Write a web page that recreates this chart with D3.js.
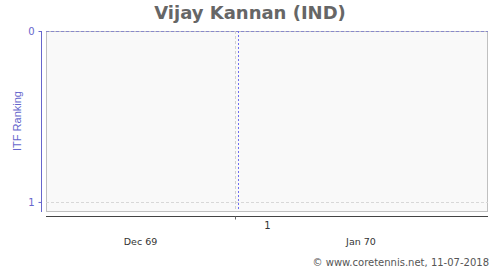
<!DOCTYPE html>
<html><head><meta charset="utf-8">
<script src="https://cdn.jsdelivr.net/npm/d3@7"></script>
<style>body{margin:0;background:#fff}svg{display:block;font-family:"DejaVu Sans",sans-serif}</style>
</head><body><svg id="c" width="500" height="270"></svg>
<script>
const title = "Vijay Kannan (IND)";
const yLabel = "ITF Ranking";
const footer = "© www.coretennis.net, 11-07-2018";
const yTicks = [0, 1];
const yDomain = [0, 1.053];
const xDomain = ["1969-12-08T18:00:00Z", "1970-02-01T00:00:00Z"];
const months = ["1969-12-01T00:00:00Z", "1970-01-01T00:00:00Z", "1970-02-01T00:00:00Z"];
const monthLabels = ["Dec 69", "Jan 70"];
const weekStarts = ["1970-01-01T00:00:00Z", "1970-01-09T00:00:00Z"];
const weekLabels = ["1"];
const rankDates = ["1970-01-01T09:00:00Z"];

const svg = d3.select("#c");
const L = 46, R = 487, T = 31, B = 211;
const x = d3.scaleUtc().domain(xDomain.map(d => new Date(d))).range([L, R]);
const y = d3.scaleLinear().domain(yDomain).range([T, B]);
const axisCol = "#6666cc";

svg.append("text").attr("x", 250).attr("y", 19).attr("text-anchor", "middle")
  .attr("font-size", 18).attr("font-weight", "bold").attr("fill", "#666").text(title);

svg.append("rect").attr("x", L + 0.5).attr("y", T + 0.5).attr("width", R - L).attr("height", B - T)
  .attr("fill", "#f9f9f9").attr("stroke", "#c0c0c0");

// horizontal gridlines
svg.append("g").selectAll("line").data(yTicks).join("line")
  .attr("x1", L).attr("x2", R + 1)
  .attr("y1", d => Math.round(y(d)) + 0.5).attr("y2", d => Math.round(y(d)) + 0.5)
  .attr("stroke", (d, i) => i === 0 ? "#8888cc" : "#d8d8d8").attr("stroke-dasharray", "3,2");

// vertical gridline at month boundary
const mDates = months.map(d => new Date(d));
const innerBounds = mDates.filter(d => d > x.domain()[0] && d < x.domain()[1]);
svg.append("g").selectAll("line").data(innerBounds).join("line")
  .attr("x1", d => Math.round(x(d)) + 0.5).attr("x2", d => Math.round(x(d)) + 0.5)
  .attr("y1", T).attr("y2", B)
  .attr("stroke", "#d0d0d0").attr("stroke-dasharray", "3,2");

// ranking markers
svg.append("g").selectAll("line").data(rankDates.map(d => new Date(d))).join("line")
  .attr("x1", d => Math.round(x(d)) + 0.5).attr("x2", d => Math.round(x(d)) + 0.5)
  .attr("y1", T).attr("y2", B)
  .attr("stroke", "#6f6ff0").attr("stroke-dasharray", "2,2");

// left axis
const ya = svg.append("g").attr("transform", `translate(${L - 4.5},0)`)
  .call(d3.axisLeft(y).tickValues(yTicks).tickSize(3).tickPadding(4).tickFormat(d3.format("d")));
ya.select(".domain").attr("stroke", axisCol).attr("d", `M0,${T}V${B + 1}`);
ya.selectAll(".tick line").attr("stroke", axisCol);
ya.selectAll(".tick text").attr("fill", axisCol).attr("font-size", 10).attr("font-family", "DejaVu Sans");

svg.append("text").attr("transform", `translate(21,${(T + B) / 2}) rotate(-90)`)
  .attr("text-anchor", "middle").attr("font-size", 11).attr("fill", axisCol)
  .attr("font-family", "Liberation Sans, Arial, sans-serif").text(yLabel);

// bottom axis
const xa = svg.append("g").attr("transform", `translate(0,${B + 5.5})`)
  .call(d3.axisBottom(x).tickValues(innerBounds).tickSize(3).tickFormat(""));
xa.select(".domain").attr("stroke", "#444").attr("d", `M${L},0H${R + 1}`);
xa.selectAll(".tick line").attr("stroke", "#666");

// week labels
const wk = weekStarts.map(d => new Date(d));
svg.append("g").selectAll("text").data(weekLabels).join("text")
  .attr("x", (d, i) => (x(wk[i]) + x(wk[i + 1])) / 2).attr("y", 229)
  .attr("text-anchor", "middle").attr("font-size", 10).attr("fill", "#333").text(d => d);

// month labels centered on visible portion
svg.append("g").selectAll("text").data(monthLabels).join("text")
  .attr("x", (d, i) => {
    const a = Math.max(x(mDates[i]), L), b = Math.min(x(mDates[i + 1]), R);
    return (a + b) / 2;
  }).attr("y", 245).attr("text-anchor", "middle").attr("font-size", 9.5).attr("fill", "#333").text(d => d);

svg.append("text").attr("x", 489).attr("y", 266).attr("text-anchor", "end")
  .attr("font-size", 10).attr("fill", "#555").text(footer);
</script></body></html>
